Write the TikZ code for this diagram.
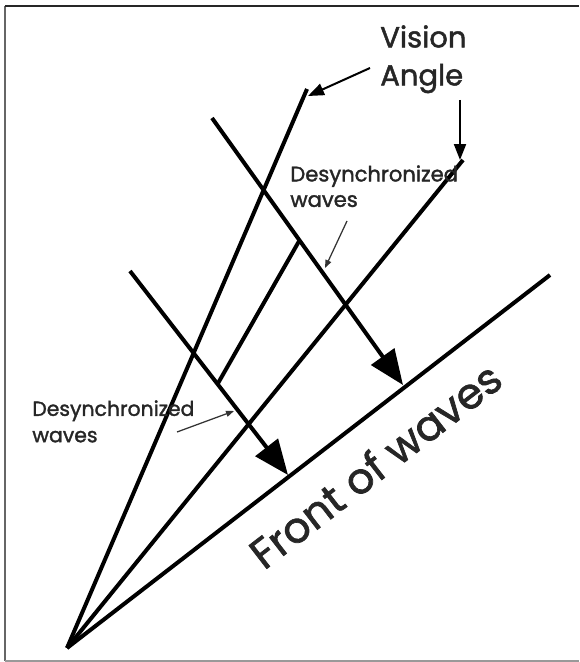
\documentclass[tikz,border=0pt]{standalone}
\usepackage{fontspec}
\setmainfont{Poppins}[FakeBold=1.6]
\usepackage{tikz}
\usetikzlibrary{arrows.meta}

\begin{document}
\begin{tikzpicture}[x=0.2mm, y=-0.2mm,
  ray/.style={line width=0.8mm},
  wave/.style={line width=0.8mm, -{Triangle[length=7mm, width=5.6mm]}},
  pointer/.style={line width=0.4mm, -{Triangle[length=3.2mm, width=2.4mm]}},
  hint/.style={line width=0.25mm, black!80, -{Triangle[length=1.6mm, width=1.2mm]}},
  label/.style={inner sep=0pt, align=left, text=black!85, anchor=north west}
]
  \useasboundingbox (0,0) rectangle (579,662);
  \draw[line width=0.4mm, black!60] (5,661) -- (5,6);
  \draw[line width=0.4mm, black!85] (5,6) -- (579,6);
  \draw[line width=0.4mm, black!40] (5,661) -- (579,661);

  \coordinate (apex) at (67,648);
  \coordinate (left) at (307,89);
  \coordinate (right) at (463,160);
  \coordinate (front) at (550,275);
  \coordinate (mid) at (298,243);
  \coordinate (a1) at (212,118);
  \coordinate (a2) at (403,385);
  \coordinate (b1) at (130,271);
  \coordinate (b2) at (288,475);

  \draw[ray] (apex) -- (left);
  \draw[ray] (apex) -- (right);
  \draw[ray] (apex) -- (front);
  \draw[ray] (intersection of apex--mid and b1--b2) -- (intersection of apex--mid and a1--a2);
  \draw[wave] (a1) -- (a2);
  \draw[wave] (b1) -- (b2);

  \node[label, font=\fontsize{16.5}{21.6}\selectfont] (vision) at (380,25) {Vision\\Angle};
  \node[label, font=\fontsize{12}{14.5}\selectfont] (desync top) at (290,165) {Desynchronized\\waves};
  \node[label, font=\fontsize{11.6}{15}\selectfont] (desync low) at (32,400) {Desynchronized\\waves};
  \node[inner sep=0pt, text=black!85, rotate=37.7, font=\fontsize{24}{28}\selectfont] (front label) at (375,465) {Front of waves};

  \coordinate (v1) at (370,68);
  \coordinate (v1 tip) at (308,96);
  \coordinate (v2) at (460,100);
  \coordinate (v2 tip) at (460,160);
  \coordinate (d1) at (347,221);
  \coordinate (d1 tip) at (325,268);
  \coordinate (d2) at (177,432);
  \coordinate (d2 tip) at (234,411);
  \draw[pointer] (v1) -- (v1 tip);
  \draw[pointer] (v2) -- (v2 tip);
  \draw[hint] (d1) -- (d1 tip);
  \draw[hint] (d2) -- (d2 tip);
\end{tikzpicture}
\end{document}
